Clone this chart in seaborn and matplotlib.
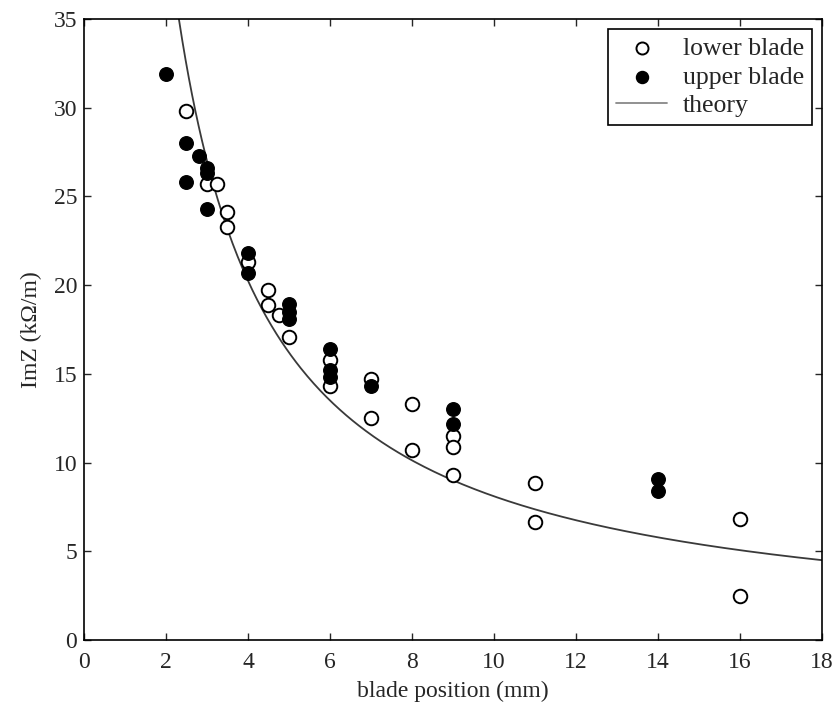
import numpy as np
import pandas as pd
import matplotlib
matplotlib.use("Agg")
import matplotlib.pyplot as plt
import seaborn as sns

# Data
lower_x = [2.5, 3.0, 3.25, 3.5, 3.5, 4.0, 4.5, 4.5, 4.75, 5.0, 6.0, 6.0, 7.0, 7.0,
           8.0, 8.0, 9.0, 9.0, 9.0, 11.0, 11.0, 16.0, 16.0]
lower_y = [29.8, 25.7, 25.7, 24.1, 23.3, 21.3, 19.7, 18.9, 18.3, 17.1, 15.8, 14.3, 14.7, 12.5,
           13.3, 10.7, 11.5, 10.9, 9.3, 8.85, 6.65, 6.8, 2.5]

upper_x = [2.0, 2.5, 2.5, 2.8, 3.0, 3.0, 3.0, 4.0, 4.0, 5.0, 5.0, 5.0, 6.0, 6.0, 6.0,
           7.0, 9.0, 9.0, 14.0, 14.0]
upper_y = [31.9, 28.0, 25.8, 27.3, 26.6, 26.3, 24.3, 21.8, 20.7, 18.95, 18.5, 18.1, 16.4, 15.2, 14.8,
           14.3, 13.0, 12.2, 9.1, 8.4]

theory_k = 81.0  # theory curve ImZ = k / position
theory_x = np.linspace(2.2, 18.0, 400)
theory_y = theory_k / theory_x

x_ticks = [0, 2, 4, 6, 8, 10, 12, 14, 16, 18]
y_ticks = [0, 5, 10, 15, 20, 25, 30, 35]

sns.set_theme(style="ticks")
plt.rcParams["font.family"] = ["Liberation Serif", "DejaVu Serif"]
plt.rcParams["mathtext.fontset"] = "stix"

fig = plt.figure(figsize=(8.37, 7.13), dpi=100)
ax = fig.add_axes([84/837, 1 - 640/713, (822-84)/837, (640-19)/713])

lower_df = pd.DataFrame({"x": lower_x, "y": lower_y})
upper_df = pd.DataFrame({"x": upper_x, "y": upper_y})
theory_df = pd.DataFrame({"x": theory_x, "y": theory_y})

sns.scatterplot(data=lower_df, x="x", y="y", ax=ax, marker="o", s=95,
                facecolor="white", edgecolor="black", linewidth=1.4,
                label="lower blade", zorder=3)
sns.scatterplot(data=upper_df, x="x", y="y", ax=ax, marker="o", s=95,
                color="black", edgecolor="black", linewidth=1.0,
                label="upper blade", zorder=4)
sns.lineplot(data=theory_df, x="x", y="y", ax=ax, color="#3a3a3a", linewidth=1.3,
             label="theory", zorder=2, sort=False)

ax.set_xlim(0, 18)
ax.set_ylim(0, 35)
ax.set_xticks(x_ticks)
ax.set_yticks(y_ticks)
ax.tick_params(direction="in", top=True, right=True, length=5, width=1.0,
               labelsize=17, pad=5)
ax.tick_params(axis="x", pad=9)
for sp in ax.spines.values():
    sp.set_linewidth(1.2)
    sp.set_color("black")
ax.set_xlabel("blade position (mm)", fontsize=17, labelpad=5)
ax.set_ylabel("ImZ (k\u03a9/m)", fontsize=17, labelpad=8)

leg = ax.legend(loc="upper right", fontsize=18.5, frameon=True, fancybox=False,
                edgecolor="black", borderpad=0.3, handlelength=2.0,
                handletextpad=0.6, labelspacing=0.22, borderaxespad=0.4)
leg.get_frame().set_linewidth(1.2)
leg.get_frame().set_alpha(1)
for h in leg.legend_handles:
    try:
        h.set_sizes([75])
    except Exception:
        pass
leg.legend_handles[2].set_color("#888888")

fig.savefig("out.png", dpi=100)
